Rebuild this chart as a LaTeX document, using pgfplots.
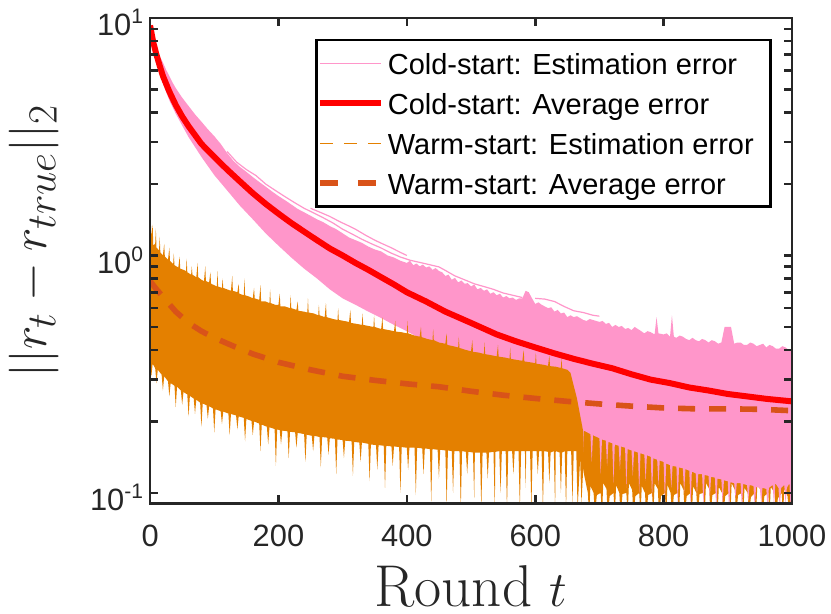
\documentclass[border=0pt]{standalone}
\usepackage{pgfplots}
\pgfplotsset{compat=1.18}
\usepackage{fontspec}
\newfontfamily\arial{Liberation Sans}
\definecolor{pinkc}{RGB}{255,150,202}
\definecolor{orangec}{RGB}{228,128,0}
\definecolor{avgwarm}{RGB}{217,83,25}
\definecolor{axisc}{RGB}{38,38,38}
\newcommand{\tp}[1]{10\raisebox{5.8pt}{\fontsize{10.5}{12}\selectfont #1}}
\begin{document}
\begin{tikzpicture}
\useasboundingbox (-75pt,-55pt) rectangle (340.3pt,251.5pt);
\begin{axis}[
  scale only axis, width=320.8pt, height=242.5pt,
  at={(0,0)}, anchor=south west,
  xmin=0, xmax=1000, ymode=log, ymin=0.0905, ymax=10,
  axis on top,
  axis line style={axisc, line width=1.3pt},
  every tick/.style={axisc, line width=1.3pt},
  major tick length=4pt, minor tick length=4pt,
  xtick={0,200,400,600,800,1000},
  xticklabels={0,200,400,600,800,1000},
  minor x tick num=0,
  ytick={0.1,1,10},
  yticklabels={{\tp{-1}},{\tp{0}},{\tp{1}}},
  minor ytick={0.2,0.3,0.4,0.5,0.6,0.7,0.8,0.9,2,3,4,5,6,7,8,9},
  xticklabel style={font=\arial\fontsize{15.4}{18}\selectfont, text=axisc, yshift=-7.1pt},
  yticklabel style={font=\arial\fontsize{15.4}{18}\selectfont, text=axisc, yshift=-2.3pt},
  every axis x label/.style={at={(axis description cs:0.5,0)}, anchor=base, yshift=-51.8pt, inner sep=0pt, font=\fontsize{29.5}{34}\selectfont, text=axisc},
  every axis y label/.style={at={(axis description cs:-0.1800,0.54)}, anchor=center, rotate=90, inner sep=0pt, font=\fontsize{29.5}{34}\selectfont, text=axisc},
  xlabel={Round $t$},
  ylabel={$||r_t - r_{true}||_2$},
  legend image code/.code={\draw[#1] (0pt,0pt) -- (30.5pt,0pt);},
  legend style={at={(axis description cs:0.969,0.957)}, anchor=north east,
    draw=black, line width=1.3pt, fill=white,
    font=\arial\fontsize{14.5}{17}\selectfont,
    inner xsep=0pt, inner ysep=1.5pt, row sep=0pt,
    nodes={inner sep=0pt, text height=15.7pt, text depth=4.3pt},
    /tikz/every odd column/.append style={column sep=2pt}},
  legend cell align=left,
]
% ---------- warm-start band, right part (behind cold-start band)
\addplot[fill=orangec, draw=none, forget plot] coordinates {
(672,0.30) (700,0.33) (800,0.31) (900,0.30) (1000,0.30)
(1000,0.095) (996,0.08) (993,0.097) (988,0.104) (986,0.08) (984,0.1) (978,0.095) (975,0.08) (973,0.1) (967,0.106) (965,0.08) (963,0.1) (957,0.097) (954,0.08) (952,0.102) (946,0.108) (944,0.08) (942,0.1) (936,0.096) (933,0.08) (931,0.1) (926,0.105) (924,0.08) (922,0.1) (916,0.098) (913,0.08) (911,0.103) (906,0.11) (904,0.08) (902,0.1) (896,0.097) (893,0.08) (891,0.1) (886,0.106) (884,0.08) (882,0.1) (876,0.098) (873,0.08) (871,0.104) (866,0.11) (864,0.08) (862,0.1) (856,0.099) (853,0.08) (851,0.1) (846,0.107) (844,0.08) (842,0.1) (836,0.097) (833,0.08) (831,0.103) (826,0.11) (824,0.08) (822,0.1) (816,0.098) (813,0.08) (811,0.1) (806,0.108) (804,0.08) (802,0.1) (796,0.097) (793,0.08) (791,0.104) (786,0.11) (784,0.08) (782,0.1) (776,0.098) (773,0.08) (771,0.1) (766,0.107) (764,0.08) (762,0.1) (756,0.097) (753,0.08) (751,0.103) (746,0.11) (744,0.08) (742,0.1) (736,0.099) (733,0.08) (731,0.1) (726,0.108) (724,0.08) (722,0.1) (716,0.097) (713,0.08) (711,0.104) (706,0.11) (704,0.08) (702,0.1) (696,0.098) (693,0.08) (691,0.1) (686,0.107) (684,0.08) (682,0.1) (676,0.12) (672,0.14)
};
% ---------- cold-start band
\addplot[fill=pinkc, draw=none, forget plot] coordinates {
(0,9.4) (3,8.6) (6,8.0) (10,7.5) (15,6.9) (20,6.5) (25,6.05) (30,5.7) (35,5.35) (40,5.07) (50,4.62) (60,4.26) (70,3.93) (80,3.66) (90,3.4) (100,3.18) (110,2.95) (120,2.7) (130,2.5) (140,2.36) (150,2.25) (160,2.14) (170,2.04) (180,1.95) (190,1.86) (200,1.78) (210,1.71) (220,1.64) (230,1.57) (240,1.52) (250,1.47) (260,1.42) (270,1.38) (280,1.33) (290,1.29) (300,1.24) (310,1.19) (320,1.16) (330,1.13) (340,1.09) (350,1.06) (360,1.04) (370,1.0) (380,0.98) (390,0.95)
(400,0.93) (405,0.95) (410,0.91) (415,0.925) (420,0.9) (425,0.915) (430,0.89) (435,0.9) (440,0.87) (445,0.885) (450,0.86) (455,0.85) (460,0.82) (465,0.83) (470,0.79) (475,0.805) (480,0.77) (485,0.785) (490,0.76) (495,0.765) (500,0.74) (505,0.755) (510,0.72) (515,0.73) (520,0.71) (525,0.72) (530,0.69) (535,0.70) (540,0.68) (545,0.69) (550,0.665) (555,0.675) (560,0.66) (565,0.665) (570,0.65) (575,0.66) (580,0.66) (585,0.71) (590,0.70) (595,0.66) (600,0.625) (605,0.635) (610,0.62) (615,0.61) (620,0.60) (625,0.605) (630,0.58) (635,0.59) (640,0.57) (645,0.575) (650,0.55) (655,0.56) (660,0.55) (665,0.555) (670,0.545) (675,0.535) (680,0.53) (685,0.54) (690,0.535) (695,0.53) (700,0.525) (705,0.53) (710,0.515) (715,0.52) (720,0.50) (725,0.51) (730,0.50) (735,0.505) (740,0.49) (745,0.495) (750,0.485) (755,0.5) (760,0.49) (765,0.48) (770,0.47) (775,0.48) (780,0.475) (786,0.465) (789,0.55) (792,0.47) (800,0.465) (805,0.47) (810,0.455) (813,0.56) (816,0.455) (820,0.45) (825,0.46) (830,0.455) (835,0.445) (840,0.44) (845,0.45) (850,0.44) (855,0.435) (860,0.445) (865,0.44) (870,0.43) (875,0.44) (880,0.435) (885,0.425) (890,0.43) (895,0.50) (905,0.50) (910,0.425) (915,0.43) (920,0.43) (925,0.42) (930,0.42) (935,0.43) (940,0.425) (945,0.415) (950,0.42) (955,0.425) (960,0.41) (965,0.42) (970,0.415) (975,0.405) (980,0.405) (985,0.415) (990,0.41) (995,0.40) (1000,0.405)
(1000,0.11) (998,0.085) (996,0.11) (992,0.105) (990,0.09) (988,0.108) (983,0.105) (981,0.085) (979,0.105) (974,0.11) (972,0.088) (970,0.108) (964,0.105) (962,0.085) (960,0.104) (954,0.105) (952,0.09) (950,0.105) (944,0.106) (942,0.085) (940,0.107) (934,0.108) (932,0.092) (930,0.108) (924,0.109) (922,0.085) (920,0.11) (914,0.11) (912,0.095) (910,0.11) (904,0.111) (902,0.085) (900,0.112) (894,0.113) (892,0.09) (890,0.114) (884,0.115) (882,0.085) (880,0.116) (874,0.117) (872,0.095) (870,0.118) (864,0.119) (862,0.088) (860,0.12) (854,0.12) (852,0.098) (850,0.121) (844,0.123) (842,0.088) (840,0.124) (834,0.126) (832,0.1) (830,0.127) (824,0.128) (822,0.09) (820,0.129) (814,0.13) (812,0.105) (810,0.131) (804,0.133) (802,0.092) (800,0.135) (794,0.137) (792,0.108) (790,0.138) (784,0.14) (782,0.095) (780,0.142) (774,0.144) (772,0.112) (770,0.145) (764,0.147) (762,0.1) (760,0.148) (754,0.15) (752,0.118) (750,0.151) (744,0.153) (742,0.105) (740,0.155) (734,0.157) (732,0.125) (730,0.158) (724,0.16) (722,0.11) (720,0.162) (714,0.164) (712,0.13) (710,0.166) (704,0.168) (702,0.12) (700,0.17) (690,0.175) (688,0.135) (686,0.177) (676,0.183) (674,0.14) (672,0.185) (664,0.19) (662,0.15) (660,0.195) (650,0.2) (625,0.215) (600,0.23) (575,0.245) (550,0.26) (525,0.28) (500,0.32) (475,0.36) (450,0.40) (425,0.44) (400,0.48) (380,0.51) (360,0.545) (340,0.58) (320,0.62) (300,0.66) (280,0.72) (260,0.80) (240,0.88) (220,0.98) (200,1.10) (180,1.24) (160,1.42) (140,1.62) (120,1.88) (100,2.18) (80,2.60) (60,3.15) (40,3.95) (30,4.5) (20,5.3) (10,6.7) (5,7.6) (0,9.0)
};
% a few single cold-start runs above the bulk
\addplot[pinkc, line width=0.6pt, forget plot] coordinates {
(120,2.74) (135,2.47) (150,2.3) (165,2.17) (180,2.0) (195,1.88) (210,1.77) (225,1.67) (240,1.58) (255,1.51) (270,1.44) (285,1.37) (300,1.29) (315,1.23) (330,1.17) (345,1.12) (360,1.075) (375,1.025) (390,0.985) (405,0.955) (420,0.935) (435,0.915) (450,0.895) (460,0.865) (475,0.82) (490,0.79) (505,0.76) (520,0.74) (535,0.72) (550,0.695) (565,0.68) (580,0.665)
};
\addplot[pinkc, line width=0.6pt, forget plot] coordinates {
(250,1.58) (265,1.52) (280,1.46) (295,1.39) (310,1.33) (320,1.29) (335,1.22) (350,1.16) (362,1.12) (375,1.08) (390,1.03) (400,1.0)
};
\addplot[pinkc, line width=0.6pt, forget plot] coordinates {
(600,0.66) (615,0.655) (630,0.64) (645,0.61) (660,0.585) (675,0.575) (690,0.56) (700,0.555)
};
% ---------- warm-start band, left part (in front)
\addplot[fill=orangec, draw=none, forget plot] coordinates {
(0,1.15) (1,1.45) (2,1.2) (4,1.35) (5,1.1) (8,1.12) (9,1.3) (10,1.08) (14,1.05) (15,1.2) (16,1.03) (20,1.0) (22,1.12) (23,0.99) (28,0.96) (30,1.08) (31,0.95) (36,0.92) (37,1.02) (38,0.91) (44,0.89) (46,0.99) (47,0.88) (52,0.87) (56,0.86) (57,0.97) (58,0.85) (64,0.83) (65,0.9) (66,0.83) (72,0.81) (74,0.93) (75,0.81) (80,0.79) (84,0.78) (86,0.90) (87,0.78) (92,0.77) (94,0.85) (95,0.76) (100,0.75) (104,0.74) (105,0.86) (106,0.74) (112,0.73) (113,0.8) (114,0.73) (120,0.72) (126,0.71) (128,0.82) (129,0.71) (136,0.70) (138,0.76) (139,0.69) (146,0.68) (147,0.8) (148,0.68) (155,0.67) (160,0.66) (162,0.73) (163,0.66) (170,0.65) (172,0.75) (173,0.64) (180,0.64) (186,0.63) (187,0.72) (188,0.63) (195,0.62) (200,0.62) (202,0.69) (203,0.61) (210,0.61) (218,0.60) (219,0.68) (220,0.60) (228,0.59) (230,0.64) (231,0.585) (240,0.58) (245,0.575) (246,0.66) (247,0.575) (255,0.57) (262,0.56) (263,0.62) (264,0.56) (272,0.55) (274,0.63) (275,0.55) (285,0.54) (292,0.535) (293,0.6) (294,0.535) (302,0.53) (310,0.525) (312,0.59) (313,0.52) (322,0.515) (330,0.51) (331,0.57) (332,0.51) (340,0.505) (348,0.50) (349,0.56) (350,0.50) (360,0.49) (362,0.55) (363,0.49) (372,0.485) (380,0.48) (382,0.53) (383,0.478) (392,0.475) (400,0.47) (401,0.53) (402,0.47) (412,0.46) (420,0.455) (422,0.5) (423,0.453) (432,0.445) (440,0.44) (441,0.49) (442,0.44) (450,0.43) (460,0.425) (462,0.47) (463,0.42) (472,0.415) (480,0.41) (481,0.455) (482,0.408) (492,0.40) (500,0.395) (502,0.44) (503,0.393) (512,0.39) (520,0.385) (521,0.43) (522,0.384) (532,0.38) (540,0.376) (542,0.42) (543,0.375) (552,0.372) (560,0.368) (561,0.41) (562,0.367) (572,0.363) (580,0.36) (582,0.40) (583,0.358) (592,0.355) (600,0.352) (601,0.39) (602,0.35) (612,0.347) (620,0.343) (622,0.38) (623,0.342) (632,0.34) (640,0.336) (641,0.37) (642,0.335) (650,0.33) (655,0.32) (665,0.25) (675,0.18)
(675,0.13) (672,0.09) (670,0.14) (666,0.085) (664,0.15) (660,0.15) (658,0.09) (656,0.15) (650,0.15) (648,0.085) (646,0.15) (642,0.148) (640,0.10) (638,0.148) (632,0.15) (631,0.085) (629,0.15) (624,0.148) (622,0.11) (620,0.149) (614,0.15) (612,0.085) (610,0.15) (606,0.15) (604,0.12) (602,0.15) (596,0.15) (594,0.085) (592,0.15) (586,0.15) (585,0.105) (584,0.15) (578,0.15) (576,0.085) (574,0.15) (568,0.15) (566,0.12) (564,0.15) (558,0.15) (556,0.085) (554,0.15) (548,0.15) (546,0.10) (544,0.15) (538,0.149) (537,0.085) (535,0.149) (528,0.148) (526,0.115) (524,0.148) (518,0.148) (516,0.085) (514,0.148) (506,0.148) (505,0.095) (503,0.148) (496,0.149) (494,0.12) (492,0.149) (486,0.15) (484,0.085) (482,0.15) (474,0.15) (472,0.10) (470,0.15) (464,0.151) (462,0.088) (460,0.151) (452,0.152) (450,0.115) (448,0.152) (440,0.153) (438,0.092) (436,0.153) (428,0.154) (426,0.12) (424,0.154) (416,0.155) (414,0.098) (412,0.155) (404,0.155) (402,0.125) (400,0.155) (392,0.156) (390,0.10) (388,0.156) (380,0.157) (378,0.13) (376,0.157) (368,0.158) (366,0.105) (364,0.158) (356,0.159) (354,0.125) (352,0.159) (344,0.16) (342,0.112) (340,0.161) (330,0.163) (328,0.135) (326,0.163) (318,0.164) (316,0.118) (314,0.165) (304,0.166) (302,0.14) (300,0.167) (292,0.168) (290,0.12) (288,0.169) (280,0.17) (278,0.145) (276,0.171) (268,0.172) (266,0.128) (264,0.172) (256,0.174) (254,0.15) (252,0.174) (244,0.176) (242,0.135) (240,0.177) (230,0.179) (228,0.155) (226,0.18) (218,0.181) (216,0.14) (214,0.182) (206,0.183) (204,0.16) (202,0.184) (198,0.185) (196,0.13) (194,0.186) (186,0.189) (184,0.16) (182,0.19) (174,0.194) (172,0.15) (170,0.196) (162,0.2) (160,0.175) (158,0.201) (150,0.205) (148,0.165) (146,0.207) (138,0.21) (136,0.185) (134,0.212) (126,0.215) (124,0.175) (122,0.216) (114,0.22) (112,0.195) (110,0.221) (102,0.225) (100,0.18) (98,0.227) (92,0.232) (90,0.205) (88,0.234) (82,0.238) (80,0.19) (78,0.24) (72,0.247) (70,0.215) (68,0.25) (62,0.256) (60,0.21) (58,0.26) (52,0.266) (50,0.235) (48,0.27) (42,0.28) (40,0.23) (38,0.283) (32,0.29) (30,0.255) (28,0.295) (22,0.31) (20,0.27) (18,0.315) (12,0.33) (10,0.29) (8,0.335) (4,0.35) (2,0.31) (0,0.36)
};
% ---------- averages
\addplot[red, line width=3pt, forget plot] coordinates {
(0,9.3) (5,7.9) (10,7.0) (15,6.3) (20,5.7) (30,4.9) (40,4.3) (50,3.85) (60,3.5) (80,2.95) (100,2.6) (120,2.3) (140,2.05) (160,1.83) (180,1.65) (200,1.5) (220,1.37) (240,1.26) (260,1.16) (280,1.07) (300,1.0) (320,0.93) (340,0.87) (360,0.81) (380,0.755) (400,0.70) (430,0.64) (460,0.58) (500,0.52) (540,0.465) (570,0.435) (600,0.41) (630,0.387) (660,0.367) (690,0.35) (720,0.335) (750,0.316) (780,0.30) (810,0.29) (840,0.278) (870,0.27) (900,0.261) (930,0.255) (960,0.249) (1000,0.243)
};
\addplot[avgwarm, line width=2.8pt, dash pattern=on 8.5pt off 7pt, forget plot] coordinates {
(0,0.78) (10,0.72) (20,0.67) (40,0.58) (60,0.52) (80,0.48) (100,0.45) (130,0.415) (160,0.385) (200,0.355) (250,0.33) (300,0.31) (350,0.298) (400,0.288) (450,0.28) (500,0.268) (550,0.258) (600,0.25) (650,0.243) (700,0.237) (750,0.232) (800,0.228) (850,0.226) (900,0.226) (950,0.225) (1000,0.222)
};
% ---------- legend
\addlegendimage{draw=pinkc, line width=0.6pt}
\addlegendentry{Cold-start: Estimation error}
\addlegendimage{draw=red, line width=3pt}
\addlegendentry{Cold-start: Average error}
\addlegendimage{draw=orangec, line width=0.6pt, dash pattern=on 6.5pt off 5.5pt}
\addlegendentry{Warm-start: Estimation error\hspace*{8.5pt}}
\addlegendimage{draw=avgwarm, line width=2.8pt, dash pattern=on 9pt off 10pt}
\addlegendentry{Warm-start: Average error}
\end{axis}
\end{tikzpicture}
\end{document}
